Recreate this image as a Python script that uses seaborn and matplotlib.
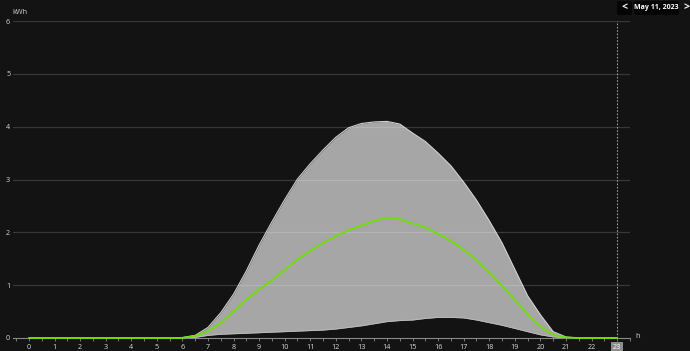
import numpy as np
import pandas as pd
import matplotlib
matplotlib.use("Agg")
import matplotlib.pyplot as plt
from matplotlib.patches import FancyBboxPatch
import seaborn as sns

hours = [i * 0.5 for i in range(47)]  # 0.0 .. 23.0 half-hourly

# upper bound of band (kWh)
band_max = [0, 0, 0, 0, 0, 0, 0, 0, 0, 0, 0, 0, 0.01, 0.05,
            0.2, 0.48, 0.83, 1.27, 1.76, 2.2, 2.62, 3.01, 3.3, 3.56,
            3.8, 3.98, 4.06, 4.09, 4.1, 4.05, 3.88, 3.72, 3.5, 3.26,
            2.95, 2.61, 2.22, 1.8, 1.3, 0.8, 0.44, 0.12, 0.02, 0, 0, 0, 0]
# lower bound of band (kWh)
band_min = [0, 0, 0, 0, 0, 0, 0, 0, 0, 0, 0, 0, 0, 0.01,
            0.05, 0.07, 0.08, 0.09, 0.1, 0.11, 0.12, 0.13, 0.14, 0.15,
            0.17, 0.2, 0.23, 0.27, 0.31, 0.33, 0.34, 0.37, 0.39, 0.39,
            0.38, 0.34, 0.29, 0.24, 0.18, 0.12, 0.06, 0.02, 0, 0, 0, 0, 0]
# production of the day (kWh)
production = [0, 0, 0, 0, 0, 0, 0, 0, 0, 0, 0, 0, 0, 0.04,
              0.13, 0.28, 0.5, 0.73, 0.92, 1.09, 1.29, 1.49, 1.65, 1.8,
              1.93, 2.04, 2.13, 2.22, 2.28, 2.25, 2.17, 2.09, 1.97, 1.84,
              1.67, 1.48, 1.24, 0.99, 0.72, 0.45, 0.21, 0.06, 0.01, 0, 0, 0, 0]

x_ticks = list(range(24))
y_ticks = [0, 1, 2, 3, 4, 5, 6]
date_label = "May 11, 2023"

BG = "#131313"
sns.set_theme(style="dark", rc={
    "axes.facecolor": BG, "figure.facecolor": BG,
    "axes.edgecolor": "#8a8a8a", "text.color": "#e0e0e0",
    "xtick.color": "#8a8a8a", "ytick.color": "#8a8a8a",
})
plt.rcParams["font.family"] = ["Open Sans", "DejaVu Sans"]

df = pd.DataFrame({"h": hours, "lo": band_min, "hi": band_max, "prod": production})

W, H = 690, 351
fig = plt.figure(figsize=(W / 100, H / 100), dpi=100)
# data -> pixel: x = 29 + 25.57*h, y = 338 - 52.8*v
x0px, x1px = 13, 630
xl = (x0px - 29) / 25.57
xr = (x1px - 29) / 25.57
ax = fig.add_axes([x0px / W, (H - 338) / H, (x1px - x0px) / W, (338 - 21) / H])
ax.set_xlim(xl, xr)
ax.set_ylim(0, 6)

ax.fill_between(df["h"], df["lo"], df["hi"], color="#a6a6a6", lw=0, zorder=2)
ax.plot(df["h"], df["hi"], color="#cfcfcf", lw=0.8, zorder=3)
ax.plot(df["h"], df["lo"], color="#bdbdbd", lw=0.6, zorder=3)
sns.lineplot(data=df, x="h", y="prod", color="#6ee000", lw=1.3, ax=ax, zorder=8, clip_on=False)

for v in y_ticks[1:]:
    ax.axhline(v, color="white", alpha=0.16, lw=0.9, zorder=4)

ax.axvline(23, ymin=0, ymax=1, color="#9a9a9a", lw=0.8, ls=(0, (1.5, 1.5)), zorder=6)

for s in ["top", "right", "left"]:
    ax.spines[s].set_visible(False)
ax.spines["bottom"].set_color("#8a8a8a")
ax.spines["bottom"].set_linewidth(0.8)
ax.spines["bottom"].set_zorder(4)

ax.set_xticks(x_ticks)
ax.set_xticklabels([str(t) for t in x_ticks], fontsize=5.2, color="#d8d8d8")
ax.set_xticks([t + 0.5 for t in x_ticks[:-1]] + [-0.5, 23.5], minor=True)
ax.tick_params(axis="x", which="both", length=2.5, width=0.6, color="#8a8a8a", pad=2, bottom=True)
ax.set_yticks(y_ticks)
ax.set_yticklabels([str(t) for t in y_ticks], fontsize=5.2, color="#d8d8d8")
ax.tick_params(axis="y", length=0, pad=2)
ax.set_xlabel("")
ax.set_ylabel("")
ax.grid(False)

lab23 = ax.get_xticklabels()[-1]
lab23.set_bbox(dict(boxstyle="square,pad=0.3", fc="#8c8c8c", ec="none"))
lab23.set_color("white")

fig.text(12 / W, 1 - 12 / H, "kWh", fontsize=5.2, color="#d0d0d0", va="center", ha="left")
fig.text(638 / W, 1 - 337 / H, "h", fontsize=5.5, color="#d0d0d0", va="center", ha="center")

# header controls (pixel boxes)
def box(x0, y0, x1, y1):
    fig.patches.append(FancyBboxPatch((x0 / W, 1 - y1 / H), (x1 - x0) / W, (y1 - y0) / H,
                                      boxstyle="round,pad=0,rounding_size=0.004",
                                      fc="#050505", ec="none", transform=fig.transFigure))

box(617, 1, 632, 15)
box(634, 1, 679, 15)
fig.text(624.5 / W, 1 - 7.5 / H, "<", fontsize=7.5, color="white", va="center", ha="center",
         fontweight="bold")
fig.text(656.5 / W, 1 - 7.5 / H, date_label, fontsize=5, color="white", va="center", ha="center",
         fontweight="bold")
fig.text(686 / W, 1 - 7.5 / H, ">", fontsize=7.5, color="white", va="center", ha="center",
         fontweight="bold")

fig.savefig("out.png", dpi=100, facecolor=BG)
